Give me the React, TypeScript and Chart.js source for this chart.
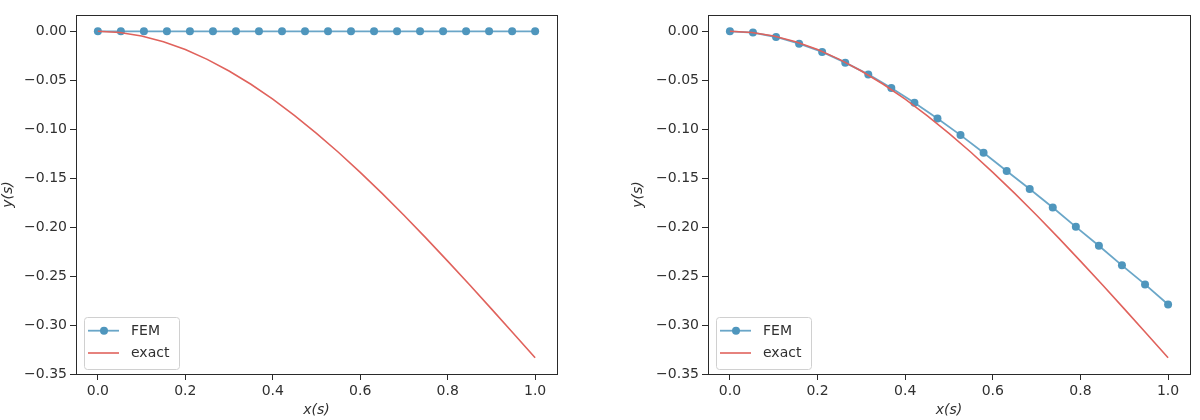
import React, { useEffect, useRef } from "react";
import { Chart, registerables } from "chart.js";

Chart.register(...registerables);

// FEM nodes along the beam (20 equally spaced nodes)
const femX = [
  0, 0.0526, 0.1053, 0.1579, 0.2105, 0.2632, 0.3158, 0.3684, 0.4211, 0.4737,
  0.5263, 0.5789, 0.6316, 0.6842, 0.7368, 0.7895, 0.8421, 0.8947, 0.9474, 1.0,
];

// Left panel: FEM solution that stays at zero
const femLeftY = [
  0, 0, 0, 0, 0, 0, 0, 0, 0, 0,
  0, 0, 0, 0, 0, 0, 0, 0, 0, 0,
];

// Right panel: FEM deflection
const femRightY = [
  0, -0.0013, -0.0058, -0.0126, -0.021, -0.032, -0.044, -0.058, -0.073, -0.089,
  -0.106, -0.124, -0.1426, -0.161, -0.18, -0.1997, -0.219, -0.239, -0.2585, -0.279,
];

// Exact deflection curve
const exactX = [
  0, 0.05, 0.1, 0.15, 0.2, 0.25, 0.3, 0.35, 0.4, 0.45, 0.5,
  0.55, 0.6, 0.65, 0.7, 0.75, 0.8, 0.85, 0.9, 0.95, 1.0,
];
const exactY = [
  0, -0.00123, -0.00483, -0.01069, -0.01867, -0.02865, -0.0405, -0.0541, -0.06933,
  -0.08606, -0.10417, -0.12352, -0.144, -0.16548, -0.18783, -0.21094, -0.23467,
  -0.2589, -0.2835, -0.30835, -0.33333,
];

const xTicks = [0, 0.2, 0.4, 0.6, 0.8, 1.0];
const yTicks = [0, -0.05, -0.1, -0.15, -0.2, -0.25, -0.3, -0.35];
const seriesNames = ["FEM", "exact"];

const FONT = "DejaVu Sans";
const TEXT = "#303030";
const SPINE = "#2a2a2a";
const BLUE_LINE = "rgba(80,150,190,0.85)";
const BLUE_MARK = "#4f96bd";
const RED = "#e0625c";

const fmt = (v: number, d: number) => {
  const s = Math.abs(v) < 1e-9 ? (0).toFixed(d) : v.toFixed(d);
  return s.replace("-", "\u2212");
};

const framePlugin = {
  id: "frameAndLegend",
  afterDraw(chart: any) {
    const ctx = chart.ctx as CanvasRenderingContext2D;
    const ca = chart.chartArea;
    ctx.save();
    // axes frame
    ctx.strokeStyle = SPINE;
    ctx.lineWidth = 1;
    ctx.strokeRect(
      Math.round(ca.left) + 0.5,
      Math.round(ca.top) + 0.5,
      Math.round(ca.right - ca.left),
      Math.round(ca.bottom - ca.top)
    );

    // legend box in the lower-left corner
    const bx = ca.left + 8;
    const by = ca.bottom - 57;
    const bw = 95;
    const bh = 52;
    ctx.beginPath();
    ctx.roundRect(bx + 0.5, by + 0.5, bw, bh, 3);
    ctx.fillStyle = "rgba(255,255,255,0.85)";
    ctx.fill();
    ctx.strokeStyle = "#d0d0d0";
    ctx.lineWidth = 1;
    ctx.stroke();

    const r1 = by + 13.7;
    const r2 = by + 36;
    // FEM sample
    ctx.strokeStyle = BLUE_LINE;
    ctx.lineWidth = 1.8;
    ctx.beginPath();
    ctx.moveTo(bx + 4, r1);
    ctx.lineTo(bx + 35, r1);
    ctx.stroke();
    ctx.fillStyle = BLUE_MARK;
    ctx.beginPath();
    ctx.arc(bx + 20, r1, 4, 0, Math.PI * 2);
    ctx.fill();
    // exact sample
    ctx.strokeStyle = RED;
    ctx.lineWidth = 1.6;
    ctx.beginPath();
    ctx.moveTo(bx + 4, r2);
    ctx.lineTo(bx + 35, r2);
    ctx.stroke();

    ctx.fillStyle = TEXT;
    ctx.font = `14px "${FONT}"`;
    ctx.textAlign = "left";
    ctx.textBaseline = "middle";
    ctx.fillText(seriesNames[0], bx + 47, r1 + 0.5);
    ctx.fillText(seriesNames[1], bx + 47, r2 + 0.5);
    ctx.restore();
  },
};

function makeConfig(femY: number[], pad: { left: number; right: number }, yWidth: number): any {
  return {
    type: "line",
    data: {
      datasets: [
        {
          label: seriesNames[1],
          data: exactX.map((x, i) => ({ x, y: exactY[i] })),
          borderColor: RED,
          borderWidth: 1.6,
          pointRadius: 0,
          fill: false,
          tension: 0,
        },
        {
          label: seriesNames[0],
          data: femX.map((x, i) => ({ x, y: femY[i] })),
          borderColor: BLUE_LINE,
          borderWidth: 1.8,
          pointRadius: 4,
          pointBackgroundColor: BLUE_MARK,
          pointBorderColor: BLUE_MARK,
          pointBorderWidth: 0,
          fill: false,
          tension: 0,
        },
      ],
    },
    options: {
      responsive: false,
      animation: false,
      devicePixelRatio: 1,
      layout: { padding: { left: pad.left, right: pad.right, top: 15, bottom: 0 } },
      plugins: { legend: { display: false }, tooltip: { enabled: false } },
      scales: {
        x: {
          type: "linear",
          min: -0.05,
          max: 1.05,
          afterBuildTicks: (s: any) => {
            s.ticks = xTicks.map((v) => ({ value: v }));
          },
          afterFit: (s: any) => {
            s.height = 46;
          },
          ticks: {
            callback: (v: number) => fmt(v, 1),
            font: { family: FONT, size: 14 },
            color: TEXT,
            padding: 3,
            maxRotation: 0,
            autoSkip: false,
          },
          grid: { drawOnChartArea: false, tickLength: 6, color: SPINE, lineWidth: 1 },
          border: { display: false },
          title: {
            display: true,
            text: "x(s)",
            font: { family: FONT, size: 14, style: "italic" },
            color: TEXT,
            padding: { top: 0, bottom: 1 },
          },
        },
        y: {
          type: "linear",
          min: -0.35,
          max: 0.01667,
          afterBuildTicks: (s: any) => {
            s.ticks = yTicks.map((v) => ({ value: v }));
          },
          afterFit: (s: any) => {
            s.width = yWidth;
          },
          ticks: {
            callback: (v: number) => fmt(v, 2),
            font: { family: FONT, size: 14 },
            color: TEXT,
            padding: 3,
            autoSkip: false,
          },
          grid: { drawOnChartArea: false, tickLength: 6, color: SPINE, lineWidth: 1 },
          border: { display: false },
          title: {
            display: true,
            text: "y(s)",
            font: { family: FONT, size: 14, style: "italic" },
            color: TEXT,
            padding: { top: 0, bottom: 0 },
          },
        },
      },
    },
    plugins: [framePlugin],
  };
}

function Panel(props: { femY: number[]; pad: { left: number; right: number }; yWidth: number; left: number }) {
  const ref = useRef<HTMLCanvasElement | null>(null);
  useEffect(() => {
    if (!ref.current) return;
    const chart = new Chart(ref.current, makeConfig(props.femY, props.pad, props.yWidth));
    return () => chart.destroy();
  }, []);
  return (
    <canvas
      ref={ref}
      width={600}
      height={420}
      style={{ position: "absolute", left: props.left, top: 0, width: 600, height: 420 }}
    />
  );
}

export default function App() {
  return (
    <div style={{ position: "absolute", left: 0, top: 0, width: 1200, height: 420, background: "#ffffff" }}>
      <Panel femY={femLeftY} pad={{ left: 0, right: 43 }} yWidth={76} left={0} />
      <Panel femY={femRightY} pad={{ left: 30, right: 10 }} yWidth={78} left={600} />
    </div>
  );
}
